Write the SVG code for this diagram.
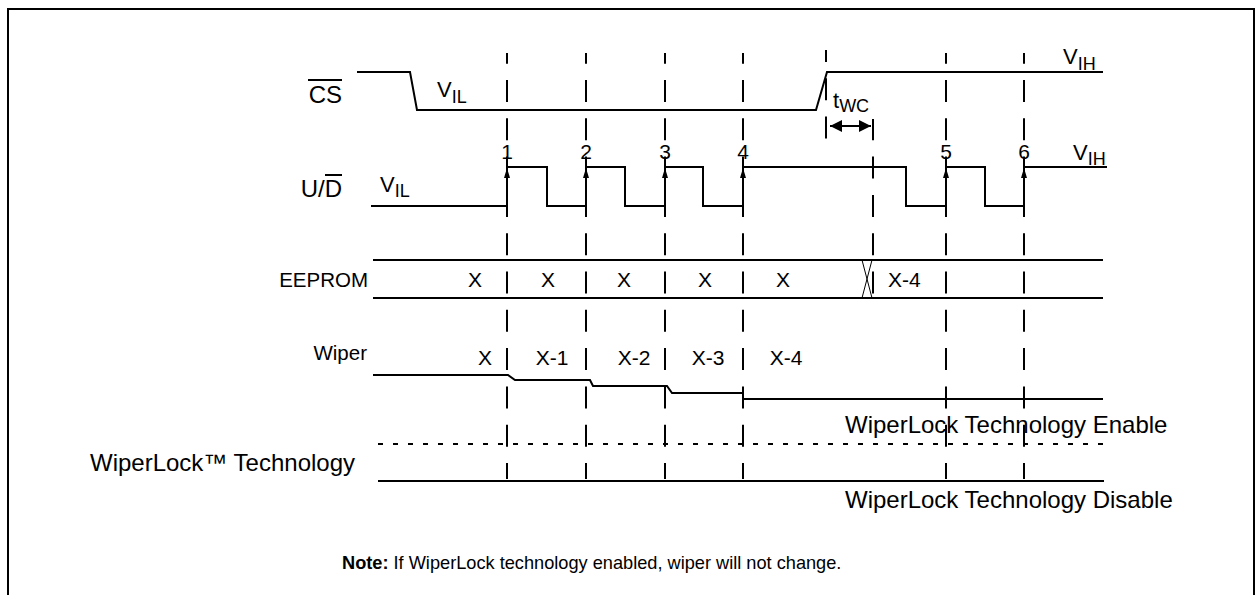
<svg xmlns="http://www.w3.org/2000/svg" width="1256" height="595" viewBox="0 0 1256 595">
<defs>
<style>
.sig{fill:none;stroke:#000;stroke-width:2}
.thin{fill:none;stroke:#000;stroke-width:1}
.grid{fill:none;stroke:#000;stroke-width:2;stroke-dasharray:22 16.3}
.dot{fill:none;stroke:#000;stroke-width:2;stroke-dasharray:5 10}
text{font-family:"Liberation Sans",Arial,sans-serif;fill:#000}
.lbl{font-size:24px}
.slbl{font-size:20.5px;text-anchor:end}
.v{font-size:22px}
.sub{font-size:18px}
.num{font-size:21px;text-anchor:middle}
.val{font-size:21px}
.note{font-size:18.2px}
</style>
<marker id="up" viewBox="0 0 10 6" refX="10" refY="3" markerWidth="10" markerHeight="6" markerUnits="userSpaceOnUse" orient="auto">
<path d="M0,0 L10,3 L0,6 Z" fill="#000"/>
</marker>
<marker id="ah" viewBox="0 0 12 12" refX="12" refY="6" markerWidth="12" markerHeight="12" markerUnits="userSpaceOnUse" orient="auto-start-reverse">
<path d="M0,0 L12,6 L0,12 Z" fill="#000"/>
</marker>
</defs>
<rect x="8" y="9" width="1246" height="700" fill="#fff" stroke="#000" stroke-width="2"/>

<g id="connectors">
<line class="grid" x1="507" y1="53" x2="507" y2="479" stroke-dashoffset="11.3"/>
<line class="grid" x1="586" y1="53" x2="586" y2="479" stroke-dashoffset="11.3"/>
<line class="grid" x1="665" y1="53" x2="665" y2="479" stroke-dashoffset="11.3"/>
<line class="grid" x1="743" y1="53" x2="743" y2="479" stroke-dashoffset="11.3"/>
<line class="grid" x1="826" y1="50" x2="826" y2="143" stroke-dashoffset="10"/>
<line class="grid" x1="873" y1="120" x2="873" y2="298" stroke-dashoffset="1.7"/>
<line class="grid" x1="946" y1="53" x2="946" y2="479" stroke-dashoffset="11.3"/>
<line class="grid" x1="1024" y1="53" x2="1024" y2="479" stroke-dashoffset="11.3"/>
</g>

<g id="cs">
<text class="lbl" x="342" y="103" text-anchor="end">CS</text>
<line class="sig" x1="308" y1="80" x2="342" y2="80"/>
<polyline class="sig" points="357,72 410,72 417,110 816,110 827,72 1103,72"/>
<text class="v" x="437" y="97">V<tspan class="sub" y="103">IL</tspan></text>
<text class="v" x="1063" y="64">V<tspan class="sub" y="70">IH</tspan></text>
</g>

<g id="twc">
<line class="sig" x1="830" y1="126" x2="871" y2="126" marker-start="url(#ah)" marker-end="url(#ah)"/>
<line class="sig" x1="873" y1="119" x2="873" y2="133"/>
<text class="v" x="833" y="108">t<tspan class="sub" y="112">WC</tspan></text>
</g>

<g id="ud">
<text class="lbl" x="342" y="197" text-anchor="end">U/D</text>
<line class="sig" x1="325" y1="175" x2="342" y2="175"/>
<text class="v" x="380" y="192">V<tspan class="sub" y="197">IL</tspan></text>
<polyline class="sig" points="371,206 507,206 507,167 547,167 547,206 586,206 586,167 625,167 625,206 665,206 665,167 703,167 703,206 743,206 743,167 906,167 906,206 946,206 946,167 985,167 985,206 1024,206 1024,167 1107,167"/>
<line class="sig" x1="507" y1="182" x2="507" y2="168" marker-end="url(#up)"/>
<line class="sig" x1="586" y1="182" x2="586" y2="168" marker-end="url(#up)"/>
<line class="sig" x1="665" y1="182" x2="665" y2="168" marker-end="url(#up)"/>
<line class="sig" x1="743" y1="182" x2="743" y2="168" marker-end="url(#up)"/>
<line class="sig" x1="946" y1="182" x2="946" y2="168" marker-end="url(#up)"/>
<line class="sig" x1="1024" y1="182" x2="1024" y2="168" marker-end="url(#up)"/>
<text class="num" x="507" y="159">1</text>
<text class="num" x="586" y="159">2</text>
<text class="num" x="665" y="159">3</text>
<text class="num" x="743" y="159">4</text>
<text class="num" x="946" y="159">5</text>
<text class="num" x="1024" y="159">6</text>
<text class="v" x="1073" y="160">V<tspan class="sub" y="165">IH</tspan></text>
</g>

<g id="eeprom">
<text class="slbl" x="368" y="287">EEPROM</text>
<line class="sig" x1="373" y1="260" x2="1103" y2="260"/>
<line class="sig" x1="373" y1="298" x2="1103" y2="298"/>
<line class="thin" x1="862" y1="260" x2="872" y2="298"/>
<line class="thin" x1="872" y1="260" x2="862" y2="298"/>
<text class="num" x="475" y="287">X</text>
<text class="num" x="548" y="287">X</text>
<text class="num" x="624" y="287">X</text>
<text class="num" x="705" y="287">X</text>
<text class="num" x="783" y="287">X</text>
<text class="val" x="888" y="287">X-4</text>
</g>

<g id="wiper">
<text class="slbl" x="367" y="360">Wiper</text>
<polyline class="sig" points="373,375 508,375 515,380 590,380 593,386 667,386 672,393 743,393 743,399 1103,399"/>
<text class="num" x="485" y="365">X</text>
<text class="num" x="552" y="365">X-1</text>
<text class="num" x="634" y="365">X-2</text>
<text class="num" x="708" y="365">X-3</text>
<text class="num" x="786" y="365">X-4</text>
</g>

<g id="wiperlock">
<text class="lbl" x="90" y="471">WiperLock™ Technology</text>
<line class="dot" x1="378" y1="444" x2="1104" y2="444"/>
<line class="sig" x1="378" y1="481" x2="1104" y2="481"/>
<text class="lbl" x="845" y="433">WiperLock Technology Enable</text>
<text class="lbl" x="845" y="508">WiperLock Technology Disable</text>
</g>

<g id="note">
<text class="note" x="342" y="569"><tspan font-weight="bold">Note:</tspan> If WiperLock technology enabled, wiper will not change.</text>
</g>
</svg>
